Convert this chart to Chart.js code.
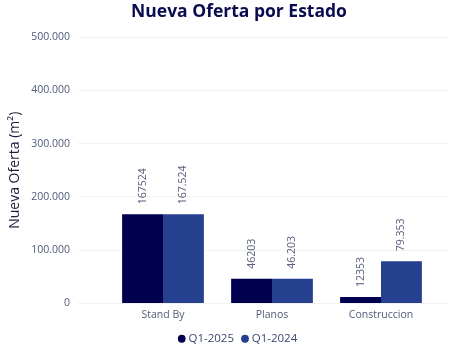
<!DOCTYPE html>
<html>
<head>
<meta charset="utf-8">
<script src="https://cdn.jsdelivr.net/npm/chart.js@4.4.1/dist/chart.umd.min.js"></script>
<style>
html,body{margin:0;padding:0;background:#fff;}
#wrap{width:452px;height:346px;position:relative;}
</style>
</head>
<body>
<div id="wrap"><canvas id="c" width="452" height="346"></canvas></div>
<script>
const categories = ["Stand By", "Planos", "Construccion"];
const seriesNames = ["Q1-2025", "Q1-2024"];
const q12025 = [167524, 46203, 12353];
const q12024 = [167524, 46203, 79353];
const yTicks = [0, 100000, 200000, 300000, 400000, 500000];
const xTicks = [0, 1, 2];

const dotFmt = v => String(v).replace(/\B(?=(\d{3})+(?!\d))/g, ".");
const labelFormats = [v => String(v), v => dotFmt(v)];
const toPoints = arr => arr.map((v, i) => ({ x: i, y: v }));

const valueLabels = {
  id: 'valueLabels',
  afterDatasetsDraw(chart) {
    const ctx = chart.ctx;
    ctx.save();
    ctx.font = '10.5px "Open Sans", sans-serif';
    ctx.fillStyle = '#555d7a';
    ctx.textAlign = 'left';
    ctx.textBaseline = 'middle';
    chart.data.datasets.forEach((ds, di) => {
      const meta = chart.getDatasetMeta(di);
      meta.data.forEach((bar, i) => {
        ctx.save();
        ctx.translate(bar.x, bar.y - 10);
        ctx.rotate(-Math.PI / 2);
        ctx.fillText(labelFormats[di](ds.data[i].y), 0, 0);
        ctx.restore();
      });
    });
    ctx.restore();
  }
};

new Chart(document.getElementById('c'), {
  type: 'bar',
  data: {
    datasets: [
      { label: seriesNames[0], data: toPoints(q12025), backgroundColor: '#00004f', borderWidth: 0 },
      { label: seriesNames[1], data: toPoints(q12024), backgroundColor: '#24408e', borderWidth: 0 }
    ]
  },
  options: {
    responsive: false,
    animation: false,
    layout: { padding: { left: 30, right: 4, top: 0, bottom: -8.5 } },
    datasets: { bar: { categoryPercentage: 0.75, barPercentage: 1.0 } },
    plugins: {
      title: {
        display: true,
        text: 'Nueva Oferta por Estado',
        color: '#0b0b4f',
        font: { family: '"Open Sans", sans-serif', size: 17.5, weight: 'bold' },
        padding: { top: 2, bottom: 14 }
      },
      legend: {
        display: true,
        position: 'bottom',
        labels: {
          usePointStyle: true,
          pointStyle: 'circle',
          boxWidth: 2,
          boxHeight: 5.5,
          padding: 10,
          color: '#3d4770',
          font: { family: '"Open Sans", sans-serif', size: 11.5 }
        }
      },
      tooltip: { enabled: false }
    },
    scales: {
      x: {
        type: 'linear',
        min: -0.7798,
        max: 2.6147,
        offset: false,
        afterBuildTicks(s) { s.ticks = xTicks.map(v => ({ value: v })); },
        grid: { display: false, drawTicks: false, offset: false },
        border: { display: false },
        ticks: {
          color: '#505a78',
          padding: 5,
          autoSkip: false,
          maxRotation: 0,
          font: { family: '"Open Sans", sans-serif', size: 10.5 },
          callback: v => categories[v]
        },
        afterFit(s) { s.height = 19.5; }
      },
      y: {
        min: 0,
        max: 500000,
        afterBuildTicks(s) { s.ticks = yTicks.map(v => ({ value: v })); },
        grid: { color: '#f2f2f5', drawTicks: false },
        border: { display: false },
        ticks: {
          color: '#505a78',
          padding: 8,
          font: { family: '"Open Sans", sans-serif', size: 10.5 },
          callback: v => dotFmt(v)
        },
        title: {
          display: true,
          text: 'Nueva Oferta (m²)',
          color: '#1d1d3d',
          font: { family: '"Open Sans", sans-serif', size: 14 },
          padding: { top: -23.4, bottom: 0 }
        },
        afterFit(s) { s.width = 48; }
      }
    }
  },
  plugins: [valueLabels]
});
</script>
</body>
</html>
